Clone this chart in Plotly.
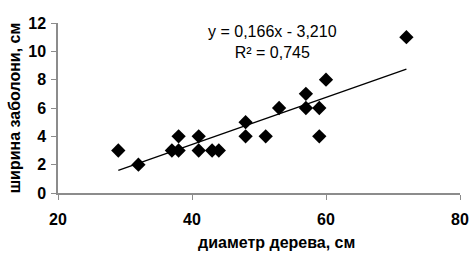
import numpy as np
import plotly.graph_objects as go

diameter = [29, 32, 37, 38, 38, 41, 41, 43, 44, 48, 48, 51, 53, 57, 57, 59, 59, 60, 72]
sapwood = [3, 2, 3, 3, 4, 4, 3, 3, 3, 5, 4, 4, 6, 7, 6, 6, 4, 8, 11]
slope, intercept = 0.166, -3.210
eq_text = "y = 0,166x - 3,210<br>R² = 0,745"
x_title = "диаметр дерева, см"
y_title = "ширина заболони, см"
x_ticks = [20, 40, 60, 80]
y_ticks = [0, 2, 4, 6, 8, 10, 12]

xl = [min(diameter), max(diameter)]
yl = [slope * v + intercept for v in xl]

fig = go.Figure()
fig.add_trace(go.Scatter(x=xl, y=yl, mode="lines", line=dict(color="black", width=1.3),
                         hoverinfo="skip"))
fig.add_trace(go.Scatter(x=diameter, y=sapwood, mode="markers",
                         marker=dict(symbol="diamond", size=11, color="black")))

font = "Liberation Sans, Arial, sans-serif"
fig.update_layout(
    width=473, height=256,
    margin=dict(l=58, r=13, t=23, b=63),
    paper_bgcolor="white", plot_bgcolor="white",
    showlegend=False,
    font=dict(family=font, color="black"),
    xaxis=dict(range=[20, 80], tickvals=x_ticks, showgrid=False, zeroline=False,
               automargin=False,
               showline=True, linecolor="#8c8c8c", linewidth=1.5,
               ticks="outside", tickcolor="#8c8c8c", ticklen=5,
               tickfont=dict(size=16, family=font, color="black", weight="bold"),
               ticklabelstandoff=6),
    yaxis=dict(range=[0, 12], tickvals=y_ticks, showgrid=False, zeroline=False,
               automargin=False,
               showline=True, linecolor="#8c8c8c", linewidth=1.5,
               ticks="outside", tickcolor="#8c8c8c", ticklen=5,
               tickfont=dict(size=16, family=font, color="black", weight="bold"),
               ticklabelstandoff=2,
               title=dict(text="<b>" + y_title + "</b>", font=dict(size=16), standoff=4)),
    annotations=[
        dict(x=0.5, y=1.0, xref="paper", yref="paper", xanchor="center", yanchor="top",
             text=eq_text, showarrow=False, align="center",
             font=dict(size=16, family=font, color="black"), xshift=13, yshift=2),
        dict(x=0.5, y=0, xref="paper", yref="paper", xanchor="center", yanchor="middle",
             text="<b>" + x_title + "</b>", showarrow=False,
             font=dict(size=16, family=font, color="black"), xshift=17, yshift=-49),
    ],
)
fig.write_html("out.html", config={"displayModeBar": False},
               post_script="document.body.style.margin='0';document.body.style.overflow='hidden';")
